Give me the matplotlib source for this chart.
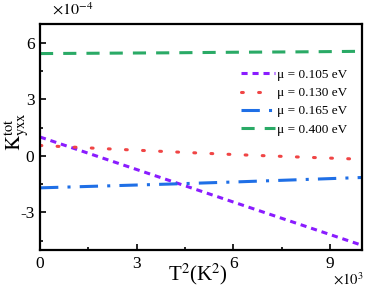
import numpy as np
import matplotlib
matplotlib.use("Agg")
import matplotlib.pyplot as plt
from matplotlib.ticker import MultipleLocator

plt.rcParams['font.family'] = ['Liberation Serif', 'DejaVu Serif']
plt.rcParams['mathtext.fontset'] = 'stix'
plt.rcParams['axes.unicode_minus'] = False

# data (x in units of 1e3 K^2, y in units of 1e-4)
x = [0, 2, 4, 6, 8, 10]
y_105 = [1.0, -0.15, -1.3, -2.45, -3.6, -4.75]
y_130 = [0.55, 0.38, 0.22, 0.07, -0.06, -0.18]
y_165 = [-1.7, -1.6, -1.5, -1.39, -1.27, -1.15]
y_400 = [5.43, 5.45, 5.47, 5.5, 5.52, 5.55]
labels = ["μ = 0.105 eV", "μ = 0.130 eV", "μ = 0.165 eV", "μ = 0.400 eV"]

W, H = 366, 291
fig = plt.figure(figsize=(W/100, H/100), dpi=100)
ax = fig.add_axes([40/W, 41/H, 322/W, 226/H])

ax.plot(x, y_105, color='#8a1cff', lw=2.2, dashes=(2.0, 1.6), label=labels[0])
ax.plot(x, y_130, color='#f04545', lw=2.2, dashes=(0.6, 5.0), dash_capstyle='round', label=labels[1])
ax.plot(x, y_165, color='#1f6fe6', lw=2.2, dashes=(6, 3, 1, 3), label=labels[2])
ax.plot(x, y_400, color='#2aaa66', lw=2.2, dashes=(4.3, 3.3), label=labels[3])

ax.set_xlim(0, 10)
ax.set_ylim(-5, 7)
ax.xaxis.set_major_locator(MultipleLocator(3))
ax.xaxis.set_minor_locator(MultipleLocator(1.5))
ax.yaxis.set_major_locator(MultipleLocator(3))
ax.yaxis.set_minor_locator(MultipleLocator(1.5))
ax.tick_params(which='both', direction='in', top=False, right=False, labelsize=12.5, width=1.2)
ax.tick_params(which='major', length=4, pad=4)
ax.tick_params(which='minor', length=2.5)
for s in ax.spines.values():
    s.set_linewidth(1.6)

fig.text(198/W, 1 - 274/H, r'T$^2$(K$^2$)', fontsize=15, ha='center', va='center')
fig.text(17/W, 1 - 132/H, r'$\mathrm{K}_{\mathrm{yxx}}^{\mathrm{tot}}$', fontsize=15,
         ha='center', va='center', rotation=90)

fig.text(52/W, 1 - 2/H, r'$\times 10^{-4}$', fontsize=11.5, ha='left', va='top')
fig.text(364/W, 1 - 288/H, r'$\times 10^{3}$', fontsize=10.5, ha='right', va='bottom')

leg = ax.legend(loc='upper right', bbox_to_anchor=(0.97, 0.825), frameon=False, fontsize=9.5,
                handlelength=2.6, handletextpad=0.15, labelspacing=0.45, borderaxespad=0)

fig.savefig('out.png', dpi=100)
